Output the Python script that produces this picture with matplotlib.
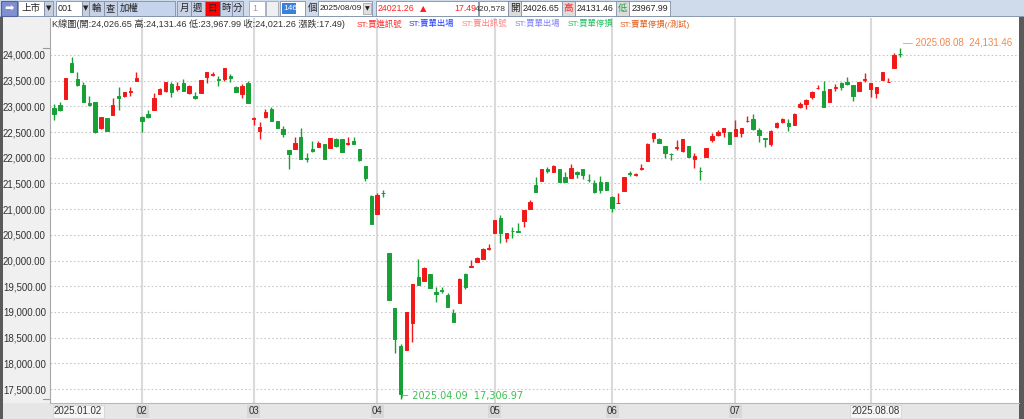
import matplotlib
matplotlib.use("Agg")
import matplotlib.pyplot as plt
from matplotlib.patches import Rectangle
from matplotlib.transforms import blended_transform_factory

plt.rcParams['font.family'] = ['Liberation Sans', 'Noto Sans CJK TC', 'DejaVu Sans']

# ---------------- data ----------------
opens = [22974, 23027, 23138, 23838, 23527, 23416, 23072, 23080, 22574, 22768,
         22832, 23202, 23208, 23286, 23488, 22799, 22846, 22930, 23241, 23299,
         23436, 23333, 23449, 23266, 23208, 23266, 23578, 23605, 23539, 23527,
         23591, 23383, 23235, 23461, 22755, 22521, 22788, 22943, 22716, 22560,
         22151, 22177, 22410, 22002, 22165, 22216, 22262, 22184, 22365, 22365,
         22268, 22326, 22169, 21840, 21256, 20900, 21320, 20153, 19077, 18337,
         18259, 18785, 19686, 19602, 19738, 19388, 19427, 19330, 18985, 19180,
         19738, 19869, 19978, 20024, 20219, 20542, 20834, 20445, 20581, 20569,
         20762, 21003, 21471, 21554, 21776, 21729, 21776, 21632, 21612, 21729,
         21776, 21573, 21503, 21534, 21534, 21243, 21114, 21354, 21704, 21671,
         21787, 21937, 22391, 22365, 22229, 22079, 22196, 22132, 22235, 21976,
         21749, 22021, 22346, 22443, 22507, 22507, 22430, 22488, 22716, 22755,
         22541, 22379, 22262, 22593, 22688, 22683, 22638, 22982, 23041, 23183,
         23350, 23300, 23080, 23364, 23461, 23480, 23416, 23299, 23519, 23338,
         23266, 23514, 23469, 23741, 24026.65]
closes = [22852, 22924, 23547, 23663, 23422, 23091, 23021, 22507, 22793, 22527,
          23027, 23169, 23274, 23299, 23547, 22710, 22799, 23169, 23333, 23480,
          23274, 23397, 23305, 23403, 23169, 23514, 23675, 23630, 23508, 23741,
          23558, 23286, 23403, 23060, 22768, 22605, 22885, 22721, 22574, 22463,
          22073, 22282, 21970, 21982, 22138, 22282, 21970, 22379, 22229, 22118,
          22282, 22274, 21957, 21601, 20711, 21276, 21309, 19232, 18474, 17403,
          19005, 19544, 19524, 19861, 19472, 19349, 19408, 19102, 18798, 19641,
          19480, 19900, 20044, 20225, 20239, 20789, 20542, 20530, 20569, 20556,
          20976, 21134, 21340, 21782, 21743, 21846, 21534, 21534, 21807, 21678,
          21665, 21562, 21340, 21373, 21373, 21017, 21126, 21620, 21690, 21684,
          21795, 22262, 22476, 22282, 22099, 22068, 22204, 22360, 22009, 22040,
          21737, 22184, 22424, 22496, 22574, 22268, 22554, 22585, 22721, 22560,
          22443, 22371, 22527, 22683, 22755, 22618, 22846, 23041, 23124, 23280,
          23365, 22994, 23333, 23371, 23371, 23430, 23202, 23469, 23527, 23449,
          23371, 23663, 23475, 24004, 24021.26]
highs = [23041, 23091, 23558, 23955, 23675, 23469, 23208, 23080, 22793, 22780,
         23157, 23383, 23274, 23371, 23663, 22813, 22930, 23255, 23364, 23480,
         23480, 23480, 23533, 23416, 23274, 23514, 23675, 23675, 23591, 23741,
         23624, 23397, 23430, 23494, 22788, 22702, 22949, 22994, 22716, 22624,
         22151, 22399, 22574, 22087, 22326, 22326, 22262, 22379, 22379, 22365,
         22410, 22399, 22169, 21840, 21276, 21309, 21373, 20153, 19077, 18376,
         19005, 19544, 20024, 19880, 19738, 19491, 19491, 19363, 19051, 19655,
         19764, 20011, 20063, 20239, 20322, 20789, 20886, 20542, 20659, 20737,
         20990, 21178, 21632, 21782, 21826, 21860, 21776, 21729, 21879, 21743,
         21782, 21678, 21568, 21645, 21534, 21256, 21320, 21620, 21743, 21710,
         21879, 22293, 22476, 22391, 22229, 22099, 22346, 22360, 22235, 22099,
         21815, 22184, 22477, 22541, 22574, 22507, 22735, 22585, 22813, 22846,
         22574, 22379, 22541, 22702, 22768, 22749, 22877, 23091, 23138, 23300,
         23420, 23500, 23333, 23430, 23480, 23578, 23416, 23469, 23644, 23449,
         23383, 23675, 23558, 24045, 24131.46]
lows = [22735, 22910, 23138, 23663, 23403, 23091, 23008, 22476, 22554, 22527,
        22832, 22930, 23188, 23208, 23488, 22507, 22780, 22930, 23241, 23274,
        23188, 23305, 23305, 23235, 23150, 23266, 23461, 23591, 23403, 23500,
        23480, 23286, 23169, 23060, 22638, 22365, 22768, 22721, 22574, 22410,
        21782, 22165, 21970, 21918, 22118, 22204, 21970, 22184, 22216, 22107,
        22249, 22262, 21943, 21548, 20711, 20900, 21243, 19232, 18201, 17306.97,
        18259, 18421, 19524, 19602, 19472, 19200, 19374, 19102, 18798, 19180,
        19441, 19869, 19978, 20024, 20206, 20542, 20347, 20367, 20433, 20550,
        20659, 21003, 21328, 21554, 21698, 21717, 21534, 21523, 21612, 21612,
        21581, 21534, 21320, 21320, 21373, 20951, 21114, 21354, 21651, 21645,
        21762, 21937, 22313, 22282, 22002, 21957, 22151, 22118, 22009, 21795,
        21568, 22021, 22313, 22430, 22410, 22268, 22430, 22410, 22702, 22541,
        22313, 22216, 22229, 22574, 22675, 22527, 22638, 22963, 22943, 23150,
        23330, 22994, 23080, 23305, 23319, 23416, 23105, 23299, 23469, 23188,
        23169, 23514, 23469, 23741, 23967.99]

first_date = "2025.01.02"
last_date = "2025.08.08"
low_date = "2025.04.09"
month_labels = ["02", "03", "04", "05", "06", "07", ""]
month_start_idx = [15, 34, 55, 75, 95, 116, 139]
y_ticks = [17500, 18000, 18500, 19000, 19500, 20000, 20500,
           21000, 21500, 22000, 22500, 23000, 23500, 24000]

UP = '#f21818'
DOWN = '#17a035'

# ---------------- figure ----------------
W, H = 1024, 419
fig = plt.figure(figsize=(W / 100, H / 100), dpi=100)
fig.patch.set_facecolor('white')


def R(x0, y0, x1, y1, fc, ec='none', lw=0.8, z=-5):
    fig.patches.append(Rectangle((x0 / W, 1 - y1 / H), (x1 - x0) / W, (y1 - y0) / H,
                                 transform=fig.transFigure, fc=fc, ec=ec, lw=lw, zorder=z))


def T(x, y, s, color='#222222', size=6.3, ha='left', weight='normal', **kw):
    fig.text(x / W, 1 - y / H, s, color=color, fontsize=size, ha=ha, va='center',
             fontweight=weight, zorder=5, **kw)


# panels
R(0, 17, 50, 403, '#f0f0f0')
R(0, 403, 1024, 419, '#e6e6e6')
R(0, 17, 3, 419, '#5a5a5a', z=-4)
R(1019, 17, 1024, 419, '#5a5a5a', z=-4)

ax = fig.add_axes([50 / W, 16 / H, 969 / W, 385 / H])
ax.set_facecolor('white')
n = len(opens)
xs = list(range(n))
ax.set_xlim(-0.68, 164.26)
ax.set_ylim(17228, 24720)

for yv in y_ticks:
    ax.axhline(yv, color='#c8c8c8', lw=0.8, ls=(0, (1.5, 2.0)), zorder=1)
for mi in month_start_idx:
    ax.axvline(mi, color='#dadada', lw=1.5, zorder=1)

cols = [UP if c >= o else DOWN for o, c in zip(opens, closes)]
ax.vlines(xs, lows, highs, colors=cols, lw=1.0, zorder=3)
bottoms = [min(o, c) for o, c in zip(opens, closes)]
heights = [abs(c - o) for o, c in zip(opens, closes)]
ax.bar(xs, heights, bottom=bottoms, width=0.58, color=cols, edgecolor=cols,
       lw=0.7, zorder=4)

for s in ['top', 'right']:
    ax.spines[s].set_visible(False)
ax.spines['left'].set_color('#a8a8a8')
ax.spines['bottom'].set_color('#b8b8b8')
ax.set_xticks([])
ax.set_yticks(y_ticks)
ax.set_yticklabels([f"{v:,.2f}" for v in y_ticks], fontsize=7, color='#333333')
ax.tick_params(axis='y', length=0, pad=3)

# high / low markers
imax = max(range(n), key=lambda i: highs[i])
imin = min(range(n), key=lambda i: lows[i])
tr_y = blended_transform_factory(ax.transAxes, ax.transData)
ax.plot([-0.007, 0], [highs[imax]] * 2, color='#999999', lw=0.8, transform=tr_y, clip_on=False)
ax.plot([-0.007, 0], [lows[imin]] * 2, color='#999999', lw=0.8, transform=tr_y, clip_on=False)

ax.annotate(f"— {last_date}  {highs[imax]:,.2f}", xy=(imax, highs[imax]),
            xytext=(2, 4), textcoords='offset points', fontsize=7, color='#f08850',
            va='center', ha='left')
ax.annotate(f"⌐ {low_date}  {lows[imin]:,.2f}", xy=(imin, lows[imin]),
            xytext=(0, 2), textcoords='offset points', fontsize=7, color='#3cc050',
            va='center', ha='left', family=['DejaVu Sans'])

# x labels in bottom strip
trx = blended_transform_factory(ax.transData, ax.transAxes)
ax.text(0, -0.022, first_date, transform=trx, fontsize=7, color='#333333', ha='left', va='center',
        bbox=dict(boxstyle='square,pad=0.15', fc='#f6f6f6', ec='#d0d0d0', lw=0.5))
ax.text(n - 1, -0.022, last_date, transform=trx, fontsize=7, color='#333333', ha='right', va='center',
        bbox=dict(boxstyle='square,pad=0.15', fc='#f6f6f6', ec='#d0d0d0', lw=0.5))
for lab, mi in zip(month_labels, month_start_idx):
    if lab:
        ax.text(mi, -0.022, lab, transform=trx, fontsize=7, color='#333333', ha='center', va='center',
                bbox=dict(boxstyle='square,pad=0.12', fc='#d8d8d8', ec='none'))

# legend row
T(52, 24, "K線圖(開:24,026.65 高:24,131.46 低:23,967.99 收:24,021.26 漲跌:17.49)", color='#333333', size=6.6)
legend = [("ST:買進訊號", '#ff2a2a', 357), ("ST:賣單出場", '#2040ff', 409),
          ("ST:賣出訊號", '#ff8080', 462), ("ST:買單出場", '#8080ff', 515),
          ("ST:買單停損", '#20c060', 568), ("ST:賣單停損(/測試)", '#e06020', 620)]
for s, c, x in legend:
    T(x, 24, s, color=c, size=6)

# toolbar
R(0, 0, 1024, 17, '#cfdaeb')
R(0, 16.5, 1024, 17.5, '#8d9bb5')
R(1, 1, 17, 16, '#7f8fd0', ec='#5060a0')
T(9, 8.5, "➡", color='white', size=8, ha='center', family=['DejaVu Sans'])
R(18, 1, 44, 16, 'white', ec='#7f8fa8', lw=0.6)
T(21, 8.5, "上市", size=6.8)
R(44, 1, 53, 16, '#c8cfdc', ec='#7f8fa8', lw=0.6)
T(48.5, 8.5, "▼", size=5, ha='center', family=['DejaVu Sans'])
R(56, 1, 82, 16, 'white', ec='#7f8fa8', lw=0.6)
T(58, 8.5, "001", size=6.5)
R(82, 1, 89, 16, '#c8cfdc', ec='#7f8fa8', lw=0.6)
T(85.5, 8.5, "▼", size=5, ha='center', family=['DejaVu Sans'])
R(89, 1, 104, 16, '#c8d2e6', ec='#7f8fa8', lw=0.6)
T(96.5, 8.5, "輪", size=6.8, ha='center')
R(104, 1, 117, 16, '#c8d2e6', ec='#7f8fa8', lw=0.6)
T(110.5, 8.5, "查", size=6.8, ha='center')
R(117, 1, 175, 16, '#c6d3ec', ec='#7f8fa8', lw=0.6)
T(120, 8.5, "加權", size=6.8)
for lab, x0, x1, fc in [("月", 177, 191, '#c8d2e6'), ("週", 191, 205, '#c8d2e6'),
                        ("日", 205, 220, '#ff0000'), ("時", 220, 232, '#c8d2e6'),
                        ("分", 232, 243, '#c8d2e6')]:
    R(x0, 1, x1, 16, fc, ec='#7f8fa8', lw=0.6)
    T((x0 + x1) / 2, 8.5, lab, size=6.8, ha='center')
R(249, 1, 265, 16, 'white', ec='#a0a8b8', lw=0.6)
T(252, 8.5, "1", size=6.3, color='#999999')
R(266, 1, 278, 16, '#f0f0f0', ec='#a0a8b8', lw=0.6)
R(280, 1, 305, 16, 'white', ec='#7f8fa8', lw=0.6)
R(282, 3, 296, 14, '#3a7fd8')
T(283, 8.5, "146", size=6, color='white')
T(308, 8.5, "個", size=6.8)
R(318, 1, 372, 16, 'white', ec='#7f8fa8', lw=0.6)
T(320, 8.5, "2025/08/09", size=6)
R(363, 3, 371, 14, '#e0e0e0', ec='#999999', lw=0.5)
T(367, 8.5, "▼", size=4.5, ha='center', family=['DejaVu Sans'])
R(376, 1, 478, 16, 'white', ec='#7f8fa8', lw=0.6)
T(378, 8.5, "24021.26", size=6.3, color='#ff2020')
T(423, 8.5, "▲", size=6, color='#ff2020', ha='center', family=['DejaVu Sans'])
T(476, 8.5, "17.49", size=6.3, color='#ff2020', ha='right')
R(479, 1, 508, 16, 'white', ec='#7f8fa8', lw=0.6)
T(506, 8.5, "420,578", size=6.1, color='#333333', ha='right')
R(508, 1, 670, 16, 'white', ec='#7f8fa8', lw=0.6)
R(508, 1, 521, 16, '#dcdcdc', ec='#7f8fa8', lw=0.6)
T(514.5, 8.5, "開", size=6.8, ha='center')
T(523, 8.5, "24026.65", size=6.3)
R(562, 1, 575, 16, '#dcdcdc', ec='#7f8fa8', lw=0.6)
T(568.5, 8.5, "高", size=6.8, ha='center', color='#ff2020')
T(577, 8.5, "24131.46", size=6.3)
R(616, 1, 629, 16, '#dcdcdc', ec='#7f8fa8', lw=0.6)
T(622.5, 8.5, "低", size=6.8, ha='center', color='#20a040')
T(632, 8.5, "23967.99", size=6.3)

fig.savefig("out.png", dpi=100)
